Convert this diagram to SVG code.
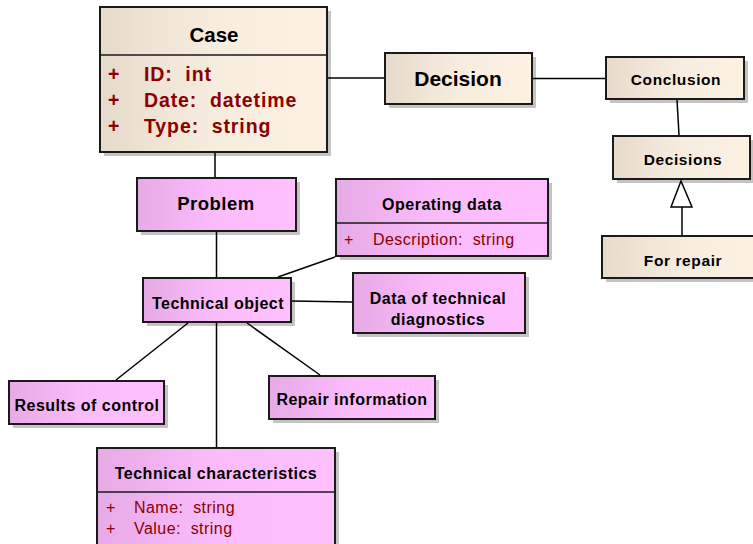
<svg xmlns="http://www.w3.org/2000/svg" width="753" height="544" viewBox="0 0 753 544">
<defs>
<linearGradient id="beige" x1="0" y1="0" x2="1" y2="0"><stop offset="0" stop-color="#E6DACA"/><stop offset="0.5" stop-color="#F7EDDF"/><stop offset="1" stop-color="#FCF1E3"/></linearGradient>
<linearGradient id="pink" x1="0" y1="0" x2="1" y2="0"><stop offset="0" stop-color="#E6AAE6"/><stop offset="0.5" stop-color="#FBBCFB"/><stop offset="1" stop-color="#FFC0FF"/></linearGradient>
</defs>
<style>
text{white-space:pre;}
.sh{fill:#C4C4C4;}
.b{fill:url(#beige);stroke:#1a1a1a;stroke-width:2;}
.p{fill:url(#pink);stroke:#1a1a1a;stroke-width:2;}
.dv{stroke:#1a1a1a;stroke-width:1.5;}
.t{font-family:"Liberation Sans",Arial,sans-serif;font-weight:bold;fill:#000;text-anchor:middle;}
.pl{font-size:16px;letter-spacing:0.5px;}
.bl{font-size:15.5px;letter-spacing:0.6px;}
.a{font-family:"Liberation Sans",Arial,sans-serif;fill:#8B0000;font-size:16px;letter-spacing:0.45px;}
.ab{font-family:"Liberation Sans",Arial,sans-serif;font-weight:bold;fill:#8B0000;font-size:19.5px;letter-spacing:0.9px;}
.c{stroke:#000;stroke-width:1.5;fill:none;}
</style>
<g id="case">
<rect class="sh" x="104" y="11" width="227" height="145"/>
<rect class="b" x="100" y="7" width="227" height="145"/>
<line class="dv" x1="100" y1="55" x2="327" y2="55"/>
<text class="t" x="214" y="42" font-size="20.5">Case</text>
<text class="ab"><tspan x="108" y="81">+</tspan><tspan x="144" y="81">ID:  int</tspan><tspan x="108" y="107">+</tspan><tspan x="144" y="107">Date:  datetime</tspan><tspan x="108" y="133">+</tspan><tspan x="144" y="133">Type:  string</tspan></text>
</g>
<g id="decision">
<rect class="sh" x="389" y="57" width="147" height="51"/>
<rect class="b" x="385" y="53" width="147" height="51"/>
<text class="t" x="458" y="86" font-size="21">Decision</text>
</g>
<g id="conclusion">
<rect class="sh" x="610" y="61" width="138" height="42"/>
<rect class="b" x="606" y="57" width="138" height="42"/>
<text class="t bl" x="676" y="85">Conclusion</text>
</g>
<g id="decisions">
<rect class="sh" x="617" y="140" width="137" height="43"/>
<rect class="b" x="613" y="136" width="137" height="43"/>
<text class="t bl" x="683" y="165">Decisions</text>
</g>
<g id="for-repair">
<rect class="sh" x="606" y="240" width="160" height="42"/>
<rect class="b" x="602" y="236" width="160" height="42"/>
<text class="t bl" x="683" y="266">For repair</text>
</g>
<g id="problem">
<rect class="sh" x="141" y="182" width="159" height="53"/>
<rect class="p" x="137" y="178" width="159" height="53"/>
<text class="t" x="216" y="210" font-size="18.5" letter-spacing="0.5">Problem</text>
</g>
<g id="operating-data">
<rect class="sh" x="340" y="183" width="212" height="77"/>
<rect class="p" x="336" y="179" width="212" height="77"/>
<line class="dv" x1="336" y1="223" x2="548" y2="223"/>
<text class="t pl" x="442" y="210">Operating data</text>
<text class="a"><tspan x="344" y="245">+</tspan><tspan x="373" y="245">Description:  string</tspan></text>
</g>
<g id="technical-object">
<rect class="sh" x="147" y="282" width="148" height="44"/>
<rect class="p" x="143" y="278" width="148" height="44"/>
<text class="t pl" x="218" y="309">Technical object</text>
</g>
<g id="data-diagnostics">
<rect class="sh" x="357" y="277" width="172" height="60"/>
<rect class="p" x="353" y="273" width="172" height="60"/>
<text class="t pl"><tspan x="438" y="304">Data of technical</tspan><tspan x="438" y="325">diagnostics</tspan></text>
</g>
<g id="results-of-control">
<rect class="sh" x="13" y="385" width="155" height="43"/>
<rect class="p" x="9" y="381" width="155" height="43"/>
<text class="t pl" x="87" y="411">Results of control</text>
</g>
<g id="repair-information">
<rect class="sh" x="273" y="380" width="166" height="43"/>
<rect class="p" x="269" y="376" width="166" height="43"/>
<text class="t pl" x="352" y="405">Repair information</text>
</g>
<g id="technical-characteristics">
<rect class="sh" x="101" y="452" width="238" height="100"/>
<rect class="p" x="97" y="448" width="238" height="100"/>
<line class="dv" x1="97" y1="492" x2="335" y2="492"/>
<text class="t pl" x="216" y="479">Technical characteristics</text>
<text class="a"><tspan x="106" y="513">+</tspan><tspan x="134" y="513">Name:  string</tspan><tspan x="106" y="534">+</tspan><tspan x="134" y="534">Value:  string</tspan></text>
</g>
<g id="connectors">
<line class="c" x1="328" y1="78" x2="384" y2="78"/>
<line class="c" x1="533" y1="78.5" x2="605" y2="78.5"/>
<line class="c" x1="677" y1="100" x2="679" y2="135"/>
<line class="c" x1="682" y1="207" x2="682" y2="235"/>
<polygon points="681,181 671,207 692,207" fill="#fff" stroke="#000" stroke-width="1.5"/>
<line class="c" x1="215" y1="153" x2="215" y2="177"/>
<line class="c" x1="216.5" y1="232" x2="216.5" y2="277"/>
<line class="c" x1="335" y1="257" x2="278" y2="277"/>
<line class="c" x1="292" y1="301" x2="352" y2="302"/>
<line class="c" x1="188" y1="323" x2="116" y2="380"/>
<line class="c" x1="247" y1="323" x2="320" y2="375"/>
<line class="c" x1="216.5" y1="323" x2="216.5" y2="447"/>
</g>
</svg>
